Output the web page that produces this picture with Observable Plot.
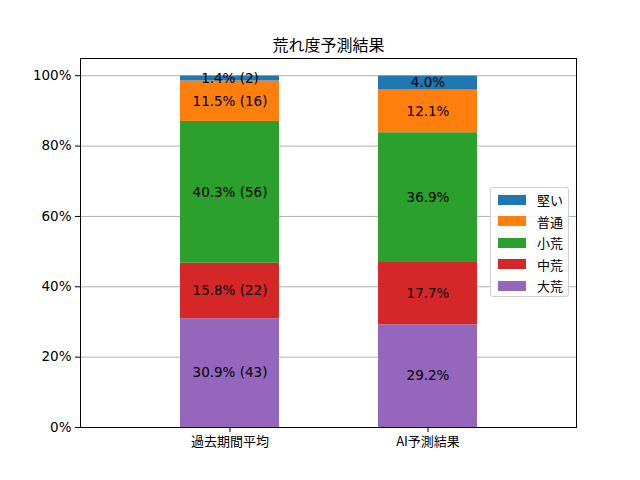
<!DOCTYPE html>
<html><head><meta charset="utf-8">
<script src="https://cdn.jsdelivr.net/npm/d3@7"></script>
<script src="https://cdn.jsdelivr.net/npm/@observablehq/plot@0.6"></script>
<style>
body{margin:0;background:#fff;}
#wrap{position:relative;width:640px;height:480px;font-family:"DejaVu Sans","Noto Sans CJK JP",sans-serif;}
#legend{position:absolute;left:490px;top:187px;width:79px;height:110px;box-sizing:border-box;border:1px solid #d0d0d0;border-radius:3px;background:rgba(255,255,255,0.85);padding:1px 0 0 7px;font-size:13px;}
.row{display:flex;align-items:center;height:21.5px;}
.sw{width:28px;height:10px;margin-right:11px;}
</style></head>
<body><div id="wrap"><div id="legend"></div></div>
<script>
const categories = ["過去期間平均", "AI予測結果"];
const levels = ["大荒", "中荒", "小荒", "普通", "堅い"];
const colors = ["#9467bd", "#d62728", "#2ca02c", "#ff7f0e", "#1f77b4"];
const pastPct = [30.9, 15.8, 40.3, 11.5, 1.4];
const pastCount = [43, 22, 56, 16, 2];
const aiPct = [29.2, 17.7, 36.9, 12.1, 4.0];
const yTicks = [0, 20, 40, 60, 80, 100];
const title = "荒れ度予測結果";

const rows = [];
[[pastPct, pastCount], [aiPct, null]].forEach(([pcts, counts], ci) => {
  let acc = 0;
  pcts.forEach((p, i) => {
    rows.push({
      cat: categories[ci], level: levels[i], y1: acc, y2: acc + p, mid: acc + p / 2,
      label: p.toFixed(1) + "%" + (counts ? ` (${counts[i]})` : "")
    });
    acc += p;
  });
});
const ymax = d3.max([d3.sum(pastPct), d3.sum(aiPct)]) * 1.05;

const chart = Plot.plot({
  width: 640, height: 480,
  marginTop: 58, marginBottom: 53, marginLeft: 80, marginRight: 64,
  style: {fontFamily: '"DejaVu Sans","Noto Sans CJK JP",sans-serif', fontSize: "13.5px", color: "#000", background: "#fff"},
  x: {domain: categories, paddingInner: 0.5, paddingOuter: 0.5, label: null},
  y: {domain: [0, ymax], label: null},
  color: {domain: levels, range: colors},
  marks: [
    Plot.gridY(yTicks, {stroke: "#b0b0b0", strokeOpacity: 1, strokeWidth: 1}),
    Plot.barY(rows, {x: "cat", y1: "y1", y2: "y2", fill: "level"}),
    Plot.text(rows, {x: "cat", y: "mid", text: "label", fill: "#000", fontSize: 13.5}),
    Plot.axisY(yTicks, {tickFormat: d => d + "%", tickSize: 5, tickPadding: 4, fontSize: 13.5, label: null}),
    Plot.axisX({tickSize: 5, tickPadding: 4, fontSize: 13, fontFamily: '"Noto Sans CJK JP",sans-serif', label: null}),
    Plot.frame({stroke: "#000"}),
    Plot.text([title], {frameAnchor: "top", dy: -8, lineAnchor: "bottom", fontSize: 16, fontFamily: '"Noto Sans CJK JP",sans-serif', fill: "#000"})
  ]
});
document.getElementById("wrap").prepend(chart);

const leg = document.getElementById("legend");
levels.map((l, i) => [l, colors[i]]).reverse().forEach(([l, c]) => {
  const r = document.createElement("div"); r.className = "row";
  r.innerHTML = `<div class="sw" style="background:${c}"></div><span style="font-family:'Noto Sans CJK JP'">${l}</span>`;
  leg.appendChild(r);
});
</script></body></html>
